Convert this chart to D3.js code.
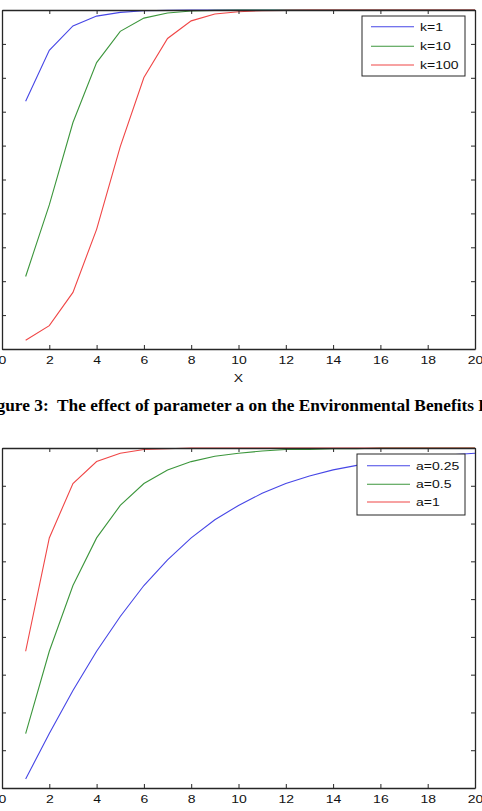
<!DOCTYPE html>
<html>
<head>
<meta charset="utf-8">
<script src="https://cdn.jsdelivr.net/npm/d3@7"></script>
<style>
  html, body { margin: 0; padding: 0; background: #fff; }
  svg { display: block; }
</style>
</head>
<body>
<script>
// ---------- data ----------
const xValues = [1,2,3,4,5,6,7,8,9,10,11,12,13,14,15,16,17,18,19,20];
const xTickValues = [0,2,4,6,8,10,12,14,16,18,20];
const xTickLabels = ["0","2","4","6","8","10","12","14","16","18","20"];

// top chart (k varies)
const topLabels = ["k=1","k=10","k=100"];
const k1   = [0.731,0.881,0.953,0.982,0.993,0.998,0.999,1,1,1,1,1,1,1,1,1,1,1,1,1];
const k10  = [0.214,0.425,0.668,0.845,0.937,0.976,0.991,0.997,0.999,1,1,1,1,1,1,1,1,1,1,1];
const k100 = [0.026,0.069,0.167,0.353,0.597,0.801,0.916,0.968,0.988,0.995,0.998,0.999,1,1,1,1,1,1,1,1];
const topYTicks = [0,0.1,0.2,0.3,0.4,0.5,0.6,0.7,0.8,0.9,1];

// bottom chart (a varies)
const bottomLabels = ["a=0.25","a=0.5","a=1"];
const a025 = [0.562,0.622,0.679,0.731,0.777,0.818,0.852,0.881,0.905,0.924,0.940,0.953,0.963,0.971,0.977,0.982,0.986,0.989,0.991,0.993];
const a05  = [0.622,0.731,0.818,0.881,0.924,0.953,0.971,0.982,0.989,0.993,0.996,0.998,0.998,0.999,0.999,1,1,1,1,1];
const a1   = [0.731,0.881,0.953,0.982,0.993,0.998,0.999,1,1,1,1,1,1,1,1,1,1,1,1,1];
const bottomYTicks = [0.55,0.6,0.65,0.7,0.75,0.8,0.85,0.9,0.95,1];

const xLabelText = "X";
const captionText = "Figure 3:  The effect of parameter a on the Environmental Benefits Function";

// ---------- styles ----------
const colors = ["#4646e6", "#3c963c", "#f04646"];
const axisColor = "#262626";
const sansFont = "'Liberation Sans', Arial, Helvetica, sans-serif";
const fontSize = 11.3;
const stretch = 1.24;

const W = 482, H = 811;
const svg = d3.select("body").append("svg").attr("width", W).attr("height", H);
svg.append("rect").attr("width", W).attr("height", H).attr("fill", "#fff");

function drawPanel(opts) {
  const { top, bottom, left, right, yDomain, yTicks, series, labels, legend, showXLabel } = opts;
  const x = d3.scaleLinear().domain([0, 20]).range([left, right]);
  const y = d3.scaleLinear().domain(yDomain).range([bottom, top]);
  const g = svg.append("g");

  // lines
  const line = d3.line().x((d, i) => x(xValues[i])).y(d => y(d));
  series.forEach((s, i) => {
    g.append("path").datum(s)
      .attr("fill", "none")
      .attr("stroke", colors[i])
      .attr("stroke-width", 1.1)
      .attr("d", line);
  });

  // axes with inward ticks
  const axB = d3.axisBottom(x).tickValues(xTickValues)
    .tickFormat((d, i) => xTickLabels[i]).tickSizeInner(-4).tickSizeOuter(0).tickPadding(7);
  const axT = d3.axisTop(x).tickValues(xTickValues).tickFormat("").tickSizeInner(-4).tickSizeOuter(0);
  const axL = d3.axisLeft(y).tickValues(yTicks).tickFormat("").tickSizeInner(-4).tickSizeOuter(0);
  const axR = d3.axisRight(y).tickValues(yTicks).tickFormat("").tickSizeInner(-4).tickSizeOuter(0);

  const gb = g.append("g").attr("transform", `translate(0,${bottom})`).call(axB);
  g.append("g").attr("transform", `translate(0,${top})`).call(axT);
  g.append("g").attr("transform", `translate(${left},0)`).call(axL);
  g.append("g").attr("transform", `translate(${right},0)`).call(axR);

  g.selectAll(".domain").attr("stroke", axisColor).attr("stroke-width", 1.3);
  g.selectAll(".tick line").attr("stroke", axisColor).attr("stroke-width", 1);
  gb.selectAll(".tick text")
    .attr("fill", "#111")
    .attr("font-family", sansFont)
    .attr("font-size", fontSize)
    .attr("transform", `scale(${stretch},1)`);

  if (showXLabel) {
    g.append("text")
      .attr("transform", `translate(${(left + right) / 2},382) scale(${stretch},1)`)
      .attr("text-anchor", "middle")
      .attr("font-family", sansFont)
      .attr("font-size", fontSize)
      .attr("fill", "#111")
      .text(xLabelText);
  }

  // legend
  const L = legend;
  const lg = g.append("g");
  lg.append("rect")
    .attr("x", L.x0).attr("y", L.y0)
    .attr("width", L.x1 - L.x0).attr("height", L.y1 - L.y0)
    .attr("fill", "#fff").attr("stroke", axisColor).attr("stroke-width", 1);
  labels.forEach((lab, i) => {
    const ly = L.rows[i];
    lg.append("line")
      .attr("x1", L.lx0).attr("x2", L.lx1)
      .attr("y1", ly).attr("y2", ly)
      .attr("stroke", colors[i]).attr("stroke-width", 1.1);
    lg.append("text")
      .attr("transform", `translate(${L.tx},${ly + 4}) scale(${stretch},1)`)
      .attr("font-family", sansFont)
      .attr("font-size", fontSize)
      .attr("fill", "#111")
      .text(lab);
  });
}

drawPanel({
  top: 10, bottom: 349, left: 2, right: 475,
  yDomain: [0, 1], yTicks: topYTicks,
  series: [k1, k10, k100], labels: topLabels,
  legend: { x0: 362, x1: 465, y0: 16, y1: 76, lx0: 371, lx1: 414, tx: 420, rows: [26.7, 46.2, 65] },
  showXLabel: true
});

drawPanel({
  top: 448, bottom: 788, left: 2, right: 475,
  yDomain: [0.55, 1], yTicks: bottomYTicks,
  series: [a025, a05, a1], labels: bottomLabels,
  legend: { x0: 357, x1: 465, y0: 454, y1: 515, lx0: 367, lx1: 410, tx: 416, rows: [465.7, 484.2, 502] },
  showXLabel: false
});

// caption (cropped at both sides as in the reference)
const cap = svg.append("text")
  .attr("font-family", "'Liberation Serif', 'Times New Roman', Times, serif")
  .attr("font-weight", "bold")
  .attr("font-size", 16.2)
  .attr("fill", "#000")
  .style("white-space", "pre")
  .text(captionText);
const node = cap.node();
const iThe = captionText.indexOf("The");
const iEnd = captionText.indexOf("Benefits") + "Benefits".length - 1;
const px0 = node.getStartPositionOfChar(iThe).x;
const px1 = node.getEndPositionOfChar(iEnd).x;
const sx = (474 - 57) / (px1 - px0);
cap.attr("transform", `translate(${57 - px0 * sx},411) scale(${sx},1)`);
</script>
</body>
</html>
